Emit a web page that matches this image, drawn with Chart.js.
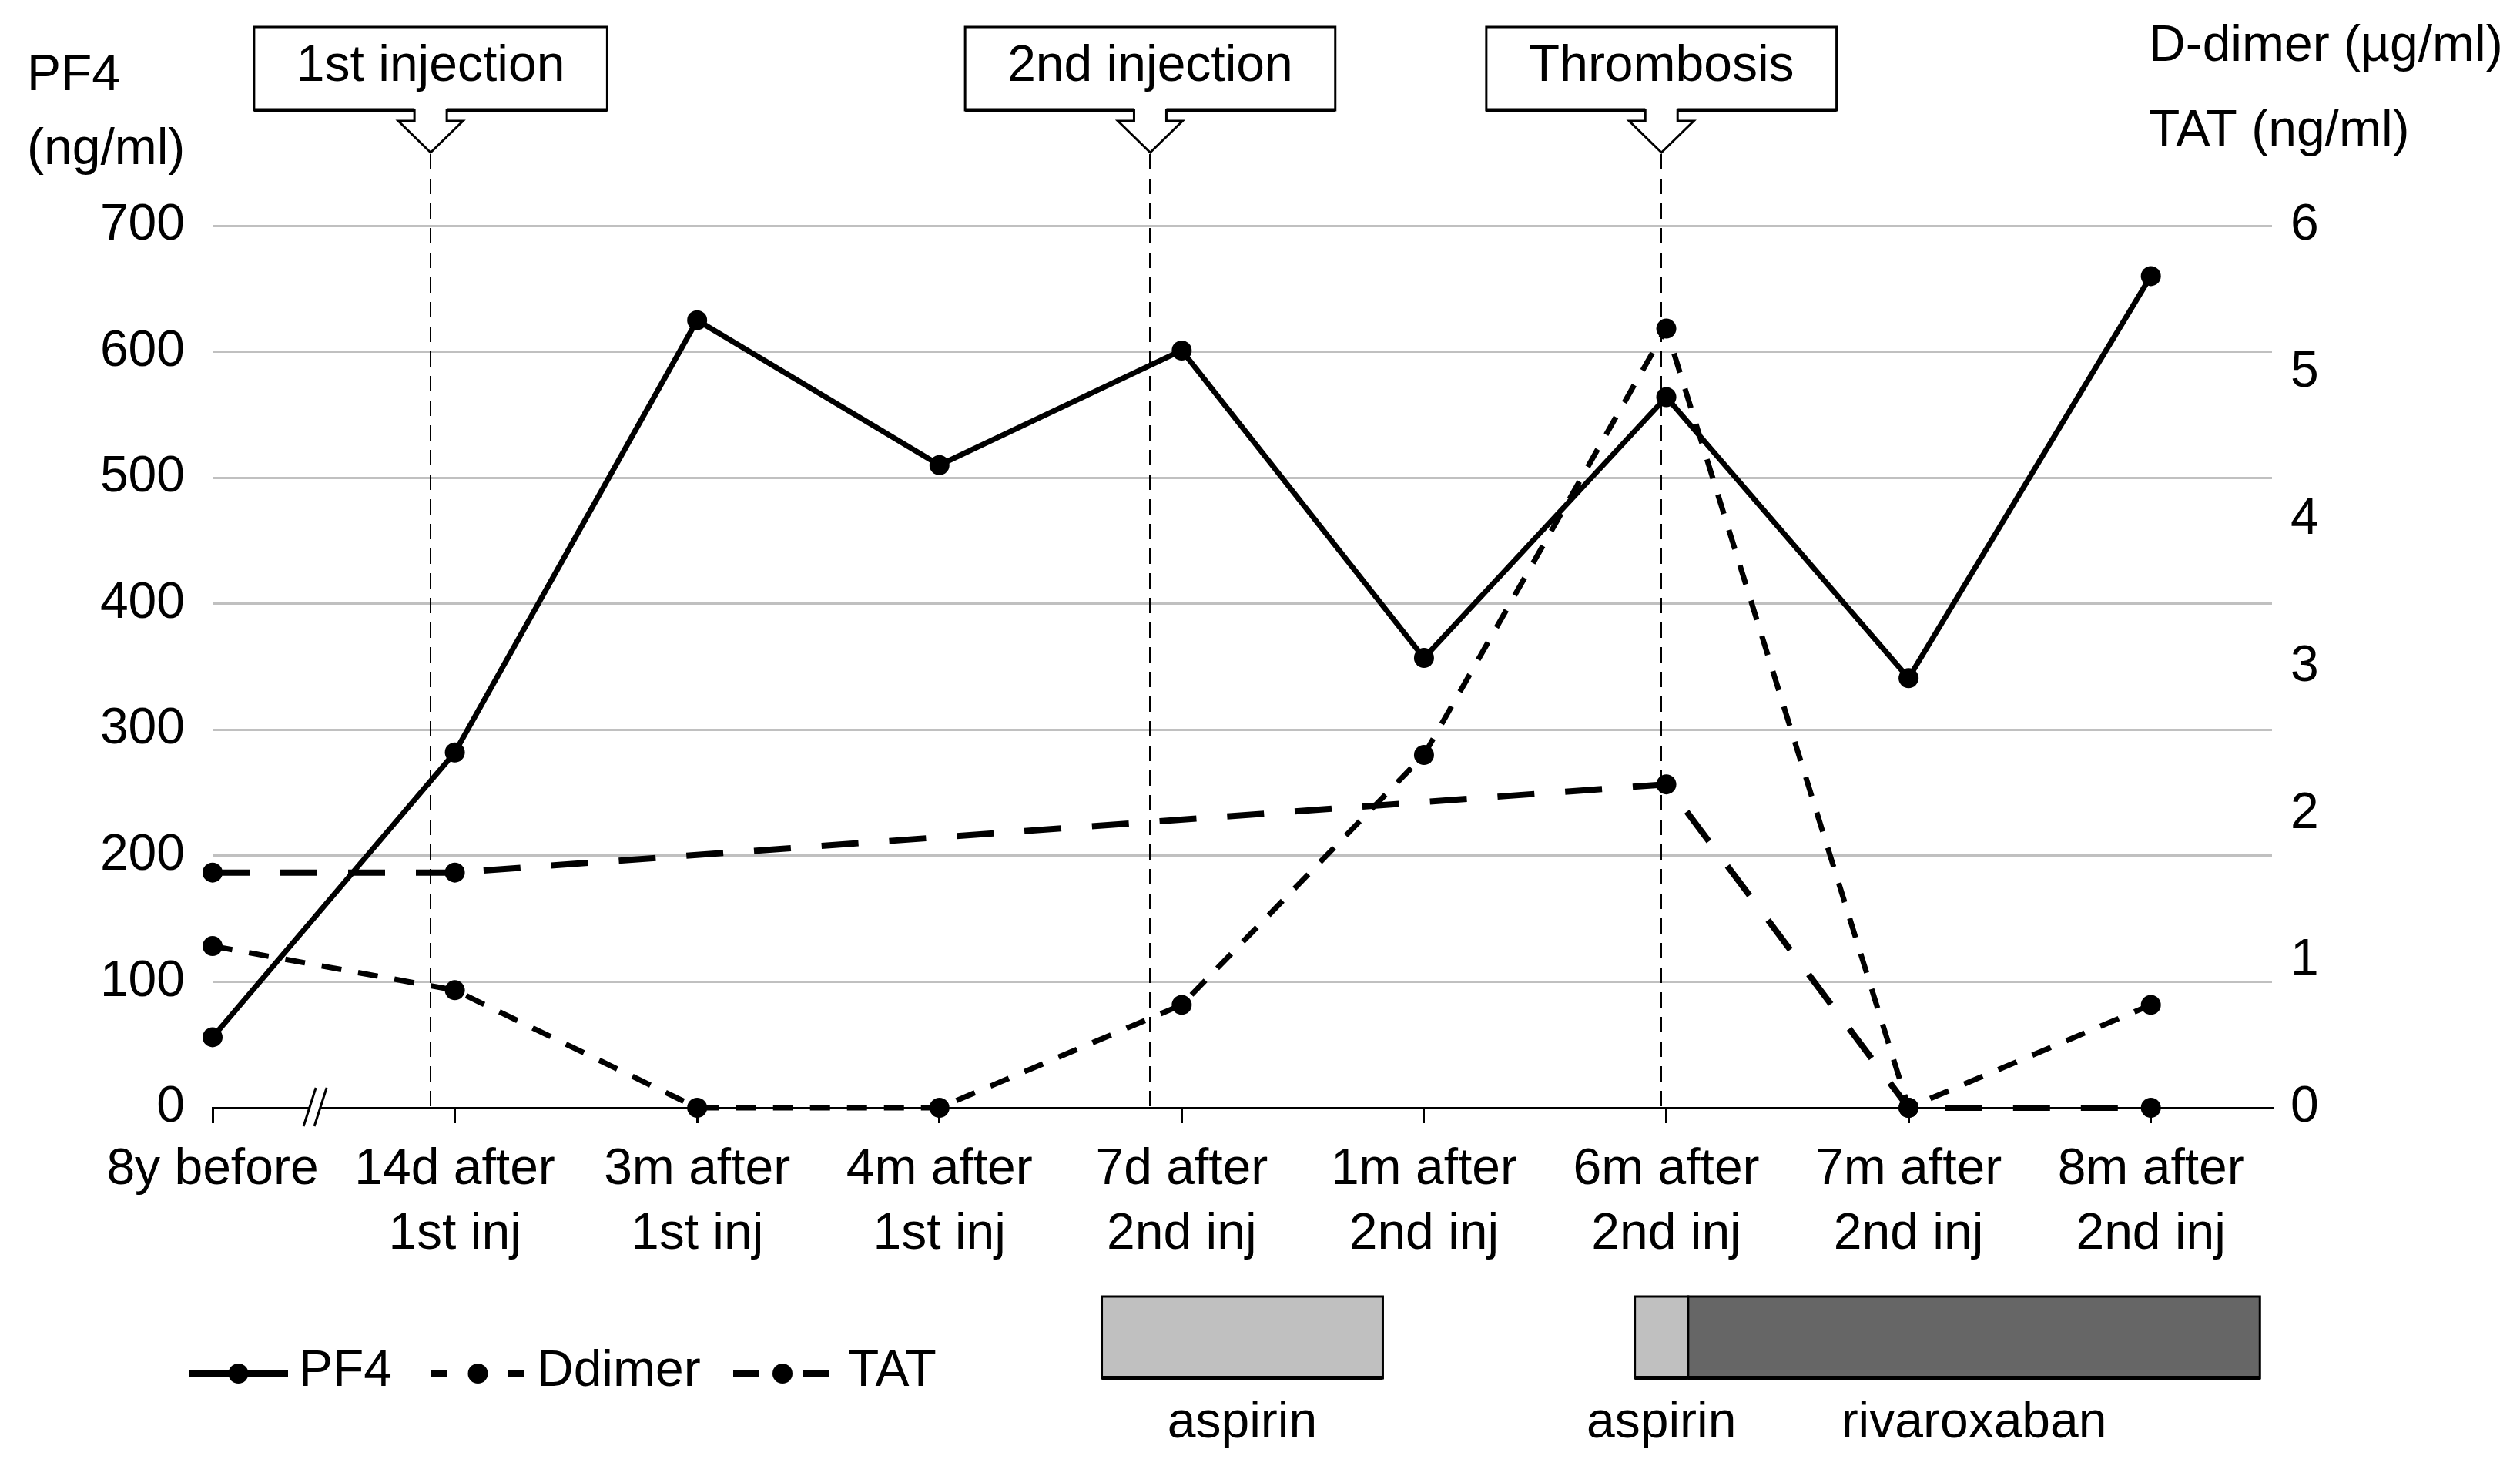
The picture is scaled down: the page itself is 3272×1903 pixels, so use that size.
<!DOCTYPE html>
<html>
<head>
<meta charset="utf-8">
<script src="https://cdn.jsdelivr.net/npm/chart.js@4"></script>
<style>
html,body{margin:0;padding:0;background:#fff;}
canvas{display:block;}
</style>
</head>
<body>
<canvas id="c" width="3272" height="1903"></canvas>
<script>
// ---------- data ----------
const categories = [
  ["8y before", ""],
  ["14d after", "1st inj"],
  ["3m after", "1st inj"],
  ["4m after", "1st inj"],
  ["7d after", "2nd inj"],
  ["1m after", "2nd inj"],
  ["6m after", "2nd inj"],
  ["7m after", "2nd inj"],
  ["8m after", "2nd inj"]
];
const pf4Values    = [56, 282, 625, 510, 601, 357, 564, 341, 660];
const ddimerValues = [1.1, 0.8, 0, 0, 0.7, 2.4, 5.3, 0, 0.7];
const tatValues    = [1.6, 1.6, null, null, null, null, 2.2, 0, 0];
const leftTicks  = [0, 100, 200, 300, 400, 500, 600, 700];
const rightTicks = [0, 1, 2, 3, 4, 5, 6];
const seriesNames = ["PF4", "Ddimer", "TAT"];

// events (position in category units)
const eventLabels = ["1st injection", "2nd injection", "Thrombosis"];
const eventAt     = [0.9, 3.87, 5.98];

// medication periods (category units)
const medNames = ["aspirin", "aspirin", "rivaroxaban"];
const medStart = [3.67, 5.87, 6.09];
const medEnd   = [4.83, 6.09, 8.45];
const medShade = ["#c0c0c0", "#c0c0c0", "#666666"];

const axisBreakAt = 0.42;

// ---------- styling ----------
const FONT = "'Liberation Sans', Arial, sans-serif";
const FS = 66;
const PLOT_LEFT = 276, PLOT_RIGHT = 2950, PLOT_TOP = 293, PLOT_BOTTOM = 1438;
const W = 3272, H = 1903;

Chart.defaults.font.family = FONT;
Chart.defaults.font.size = FS;
Chart.defaults.color = '#000';

const toXY = arr => arr.map((v, i) => ({x: i, y: v}));

const annot = {
  id: 'annot',
  beforeDatasetsDraw(chart) {
    const {ctx, scales: {x}, chartArea} = chart;
    ctx.save();
    ctx.strokeStyle = '#000';
    ctx.lineWidth = 2;
    ctx.setLineDash([20, 12]);
    eventAt.forEach(v => {
      const px = Math.round(x.getPixelForValue(v));
      ctx.beginPath();
      ctx.moveTo(px, 200);
      ctx.lineTo(px, chartArea.bottom);
      ctx.stroke();
    });
    ctx.restore();
  },
  afterDraw(chart) {
    const {ctx, scales: {x}, chartArea} = chart;
    ctx.save();
    ctx.font = FS + 'px ' + FONT;
    ctx.fillStyle = '#000';

    // axis titles
    ctx.textAlign = 'left';
    ctx.textBaseline = 'middle';
    ctx.fillText('PF4', 35, 99);
    ctx.fillText('(ng/ml)', 35, 195);
    ctx.fillText('D-dimer (\u00b5g/ml)', 2790, 61);
    ctx.fillText('TAT (ng/ml)', 2790, 171);

    // axis break
    const bx = x.getPixelForValue(axisBreakAt);
    ctx.fillStyle = '#fff';
    ctx.beginPath();
    ctx.moveTo(bx - 14, 1462); ctx.lineTo(bx + 2, 1412);
    ctx.lineTo(bx + 16, 1412); ctx.lineTo(bx, 1462); ctx.closePath();
    ctx.fill();
    ctx.strokeStyle = '#000';
    ctx.lineWidth = 3;
    ctx.beginPath();
    ctx.moveTo(bx - 14, 1462); ctx.lineTo(bx + 2, 1412);
    ctx.moveTo(bx, 1462); ctx.lineTo(bx + 16, 1412);
    ctx.stroke();

    // event callout boxes
    const top = 35, bot = 143, stemB = 157, tip = 198;
    eventLabels.forEach((lab, i) => {
      const cx = x.getPixelForValue(eventAt[i]);
      ctx.font = FS + 'px ' + FONT;
      const tw = ctx.measureText(lab).width;
      const hw = (tw + 110) / 2;
      ctx.beginPath();
      ctx.moveTo(cx - hw, top);
      ctx.lineTo(cx + hw, top);
      ctx.lineTo(cx + hw, bot);
      ctx.lineTo(cx + 21, bot);
      ctx.lineTo(cx + 21, stemB);
      ctx.lineTo(cx + 42, stemB);
      ctx.lineTo(cx, tip);
      ctx.lineTo(cx - 42, stemB);
      ctx.lineTo(cx - 21, stemB);
      ctx.lineTo(cx - 21, bot);
      ctx.lineTo(cx - hw, bot);
      ctx.closePath();
      ctx.fillStyle = '#fff';
      ctx.fill();
      ctx.strokeStyle = '#000';
      ctx.lineWidth = 3;
      ctx.lineJoin = 'miter';
      ctx.stroke();
      // heavier bottom edge
      ctx.lineWidth = 5;
      ctx.beginPath();
      ctx.moveTo(cx - hw, bot); ctx.lineTo(cx - 21, bot);
      ctx.moveTo(cx + 21, bot); ctx.lineTo(cx + hw, bot);
      ctx.stroke();
      ctx.fillStyle = '#000';
      ctx.textAlign = 'center';
      ctx.textBaseline = 'middle';
      ctx.fillText(lab, cx, 87);
    });

    // legend
    const ly = 1783;
    const legendItems = [
      {name: seriesNames[0], x0: 245, x1: 374, dash: [], w: 8, text: 388},
      {name: seriesNames[1], x0: 560, x1: 681, dash: [21, 79], w: 8, text: 697},
      {name: seriesNames[2], x0: 952, x1: 1080, dash: [34, 57], w: 8, text: 1101}
    ];
    legendItems.forEach(it => {
      ctx.strokeStyle = '#000';
      ctx.lineWidth = it.w;
      ctx.setLineDash(it.dash);
      ctx.beginPath();
      ctx.moveTo(it.x0, ly); ctx.lineTo(it.x1, ly);
      ctx.stroke();
      ctx.setLineDash([]);
      ctx.fillStyle = '#000';
      ctx.beginPath();
      ctx.arc((it.x0 + it.x1) / 2, ly, 13, 0, Math.PI * 2);
      ctx.fill();
      ctx.textAlign = 'left';
      ctx.textBaseline = 'middle';
      ctx.fillText(it.name, it.text, 1781);
    });

    // medication bars
    const mTop = 1683, mBot = 1789;
    medNames.forEach((name, i) => {
      const x0 = x.getPixelForValue(medStart[i]);
      const x1 = x.getPixelForValue(medEnd[i]);
      ctx.fillStyle = medShade[i];
      ctx.fillRect(x0, mTop, x1 - x0, mBot - mTop);
      ctx.strokeStyle = '#000';
      ctx.lineWidth = 3;
      ctx.strokeRect(x0, mTop, x1 - x0, mBot - mTop);
      ctx.lineWidth = 6;
      ctx.beginPath();
      ctx.moveTo(x0, mBot); ctx.lineTo(x1, mBot);
      ctx.stroke();
      ctx.fillStyle = '#000';
      ctx.textAlign = 'center';
      ctx.textBaseline = 'middle';
      ctx.fillText(name, (x0 + x1) / 2, 1848);
    });
    ctx.restore();
  }
};

new Chart(document.getElementById('c'), {
  type: 'line',
  data: {
    datasets: [
      {
        label: seriesNames[0], data: toXY(pf4Values), yAxisID: 'y',
        borderColor: '#000', backgroundColor: '#000', borderWidth: 7,
        pointRadius: 13, pointBackgroundColor: '#000', pointBorderWidth: 0,
        tension: 0, clip: false
      },
      {
        label: seriesNames[1], data: toXY(ddimerValues), yAxisID: 'y2',
        borderColor: '#000', backgroundColor: '#000', borderWidth: 7,
        borderDash: [26, 22],
        pointRadius: 13, pointBackgroundColor: '#000', pointBorderWidth: 0,
        tension: 0, clip: false
      },
      {
        label: seriesNames[2], data: toXY(tatValues), yAxisID: 'y2',
        borderColor: '#000', backgroundColor: '#000', borderWidth: 8,
        borderDash: [48, 40], spanGaps: true,
        pointRadius: 13, pointBackgroundColor: '#000', pointBorderWidth: 0,
        tension: 0, clip: false
      }
    ]
  },
  options: {
    responsive: false,
    devicePixelRatio: 1,
    animation: false,
    layout: {padding: {top: PLOT_TOP, left: 0, right: 0, bottom: 0}},
    plugins: {legend: {display: false}, tooltip: {enabled: false}},
    scales: {
      x: {
        type: 'linear', position: 'bottom',
        min: 0, max: categories.length - 0.5,
        afterBuildTicks: s => { s.ticks = categories.map((_, i) => ({value: i})); },
        afterFit: s => { s.height = H - PLOT_BOTTOM; },
        ticks: {
          autoSkip: false, maxRotation: 0, minRotation: 0,
          color: '#000', padding: 19,
          font: {size: FS, family: FONT, lineHeight: 1.27},
          callback: v => categories[v] || ''
        },
        grid: {drawOnChartArea: false, drawTicks: true, tickLength: 20, color: '#000', lineWidth: 3},
        border: {display: true, color: '#000', width: 3}
      },
      y: {
        type: 'linear', position: 'left',
        min: leftTicks[0], max: leftTicks[leftTicks.length - 1],
        afterBuildTicks: s => { s.ticks = leftTicks.map(v => ({value: v})); },
        afterFit: s => { s.width = PLOT_LEFT; },
        ticks: {color: '#000', padding: 36, font: {size: FS, family: FONT}},
        grid: {
          drawTicks: false, lineWidth: 3,
          color: c => (c.tick && c.tick.value === 0) ? 'rgba(0,0,0,0)' : '#c0c0c0'
        },
        border: {display: false}
      },
      y2: {
        type: 'linear', position: 'right',
        min: rightTicks[0], max: rightTicks[rightTicks.length - 1],
        afterBuildTicks: s => { s.ticks = rightTicks.map(v => ({value: v})); },
        afterFit: s => { s.width = W - PLOT_RIGHT; },
        ticks: {color: '#000', padding: 24, font: {size: FS, family: FONT}},
        grid: {display: false, drawOnChartArea: false, drawTicks: false},
        border: {display: false}
      }
    }
  },
  plugins: [annot]
});
</script>
</body>
</html>
